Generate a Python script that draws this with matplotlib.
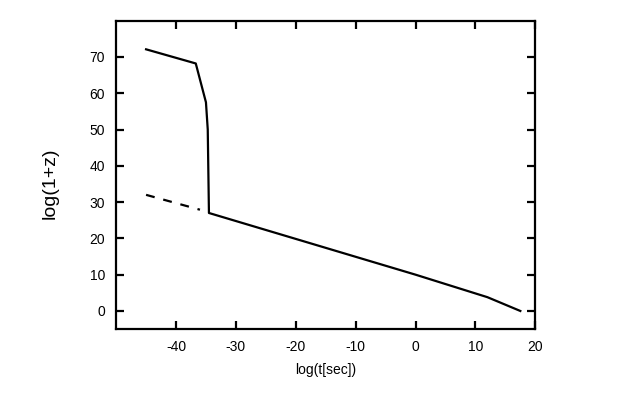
import matplotlib
matplotlib.use("Agg")
import matplotlib.pyplot as plt

# solid curve (upper branch joining the lower one)
solid_x = [-45, -36.7, -35.0, -34.7, -34.5, 0, 12, 17.5]
solid_y = [72.1, 68.2, 57.5, 50.0, 27.0, 10.0, 3.8, 0.0]

# dashed extension of the lower branch
dash_x = [-45, -36]
dash_y = [32.0, 27.9]

plt.rcParams['font.family'] = ['Liberation Sans', 'DejaVu Sans']
plt.rcParams['axes.unicode_minus'] = False

fig = plt.figure(figsize=(6.21, 3.97), dpi=100)
ax = fig.add_axes([0.187, 0.171, 0.675, 0.777])

ax.plot(solid_x, solid_y, color='black', lw=1.6)
ax.plot(dash_x, dash_y, color='black', lw=1.6, dashes=(4, 4))

ax.set_xlim(-50, 20)
ax.set_ylim(-5, 80)
ax.set_xticks([-40, -30, -20, -10, 0, 10, 20])
ax.set_yticks([0, 10, 20, 30, 40, 50, 60, 70])

for s in ax.spines.values():
    s.set_linewidth(1.6)
ax.tick_params(direction='in', length=6, width=1.6, top=True, right=True,
               labelsize=10, pad=8)

ax.set_xlabel('log(t[sec])', fontsize=10, labelpad=6)
ax.set_ylabel('log(1+z)', fontsize=14)
ax.yaxis.set_label_coords(-0.136, 0.474)

fig.savefig('out.png', dpi=100)
